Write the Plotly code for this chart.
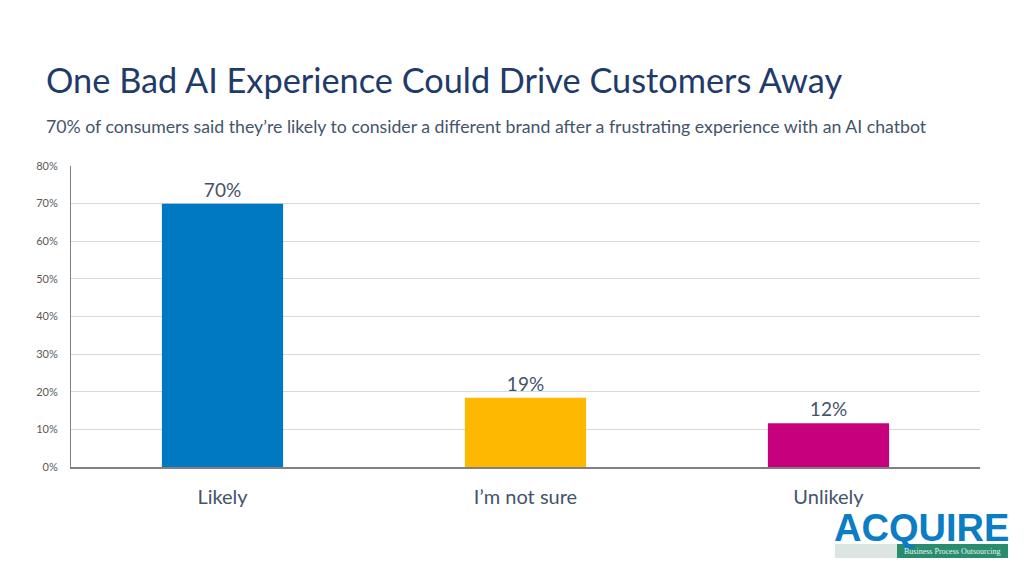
import plotly.graph_objects as go

categories = ["Likely", "I’m not sure", "Unlikely"]
values = [70, 18.4, 11.6]
value_labels = ["70%", "19%", "12%"]
bar_colors = ["#0079C2", "#FFB800", "#C7007D"]
y_ticks = [0, 10, 20, 30, 40, 50, 60, 70, 80]
y_tick_labels = [f"{v}%" for v in y_ticks]

title = "One Bad AI Experience Could Drive Customers Away"
subtitle = "70% of consumers said they’re likely to consider a different brand after a frustrating experience with an AI chatbot"

OFF = 8  # page body margin
W, H = 1024 - OFF, 576 - OFF
L, R, T, B = 71 - OFF, 44, 166 - OFF, 109
PW = W - L - R
PH = H - T - B

def px(x):
    return (x - OFF - L) / PW

def py(y):
    return (H - B - (y - OFF)) / PH

FONT = "Lato"

fig = go.Figure(go.Bar(
    x=categories, y=values, marker_color=bar_colors, marker_line_width=0,
    text=value_labels, textposition="outside", cliponaxis=False,
    textfont=dict(family=FONT, size=19, color="#44546A"),
))

fig.update_layout(
    width=W, height=H, margin=dict(l=L, r=R, t=T, b=B),
    paper_bgcolor="white", plot_bgcolor="white",
    bargap=0.6, showlegend=False,
    font=dict(family=FONT),
    xaxis=dict(showline=True, linecolor="#808080", linewidth=1.5,
               tickfont=dict(family=FONT, size=20, color="#44546A"),
               ticks="", ticklabelstandoff=11, showgrid=False),
    yaxis=dict(range=[0, 80], tickmode="array", tickvals=y_ticks, ticktext=y_tick_labels,
               tickfont=dict(family=FONT, size=11, color="#595959"),
               showgrid=True, gridcolor="#D9D9D9", gridwidth=1,
               showline=True, linecolor="#808080", linewidth=1,
               zeroline=False, ticks="", ticklabelstandoff=10),
)

annotations = [
    dict(text=title, x=px(44), y=py(80), xref="paper", yref="paper",
         xanchor="left", yanchor="middle", showarrow=False,
         font=dict(family=FONT, size=34.3, color="#1F3B6A")),
    dict(text=subtitle, x=px(44), y=py(127), xref="paper", yref="paper",
         xanchor="left", yanchor="middle", showarrow=False,
         font=dict(family=FONT, size=17.7, color="#44546A")),
    dict(text="<b>ACQUIRE</b>", x=px(921), y=py(528), xref="paper", yref="paper",
         xanchor="center", yanchor="middle", showarrow=False,
         font=dict(family="Liberation Sans", size=38, color="#0B7DC4")),
    dict(text="Business Process Outsourcing", x=px(952), y=py(551), xref="paper", yref="paper",
         xanchor="center", yanchor="middle", showarrow=False,
         font=dict(family="Liberation Serif", size=8, color="#E8F4EE")),
]
fig.update_layout(annotations=annotations)

fig.add_shape(type="rect", xref="paper", yref="paper",
              x0=px(835), x1=px(897), y0=py(544), y1=py(558),
              fillcolor="#DCE5E1", line_width=0, layer="below")
fig.add_shape(type="rect", xref="paper", yref="paper",
              x0=px(897), x1=px(1008), y0=py(544), y1=py(558),
              fillcolor="#2A8C6E", line_width=0, layer="below")

fig.write_html("out.html")
